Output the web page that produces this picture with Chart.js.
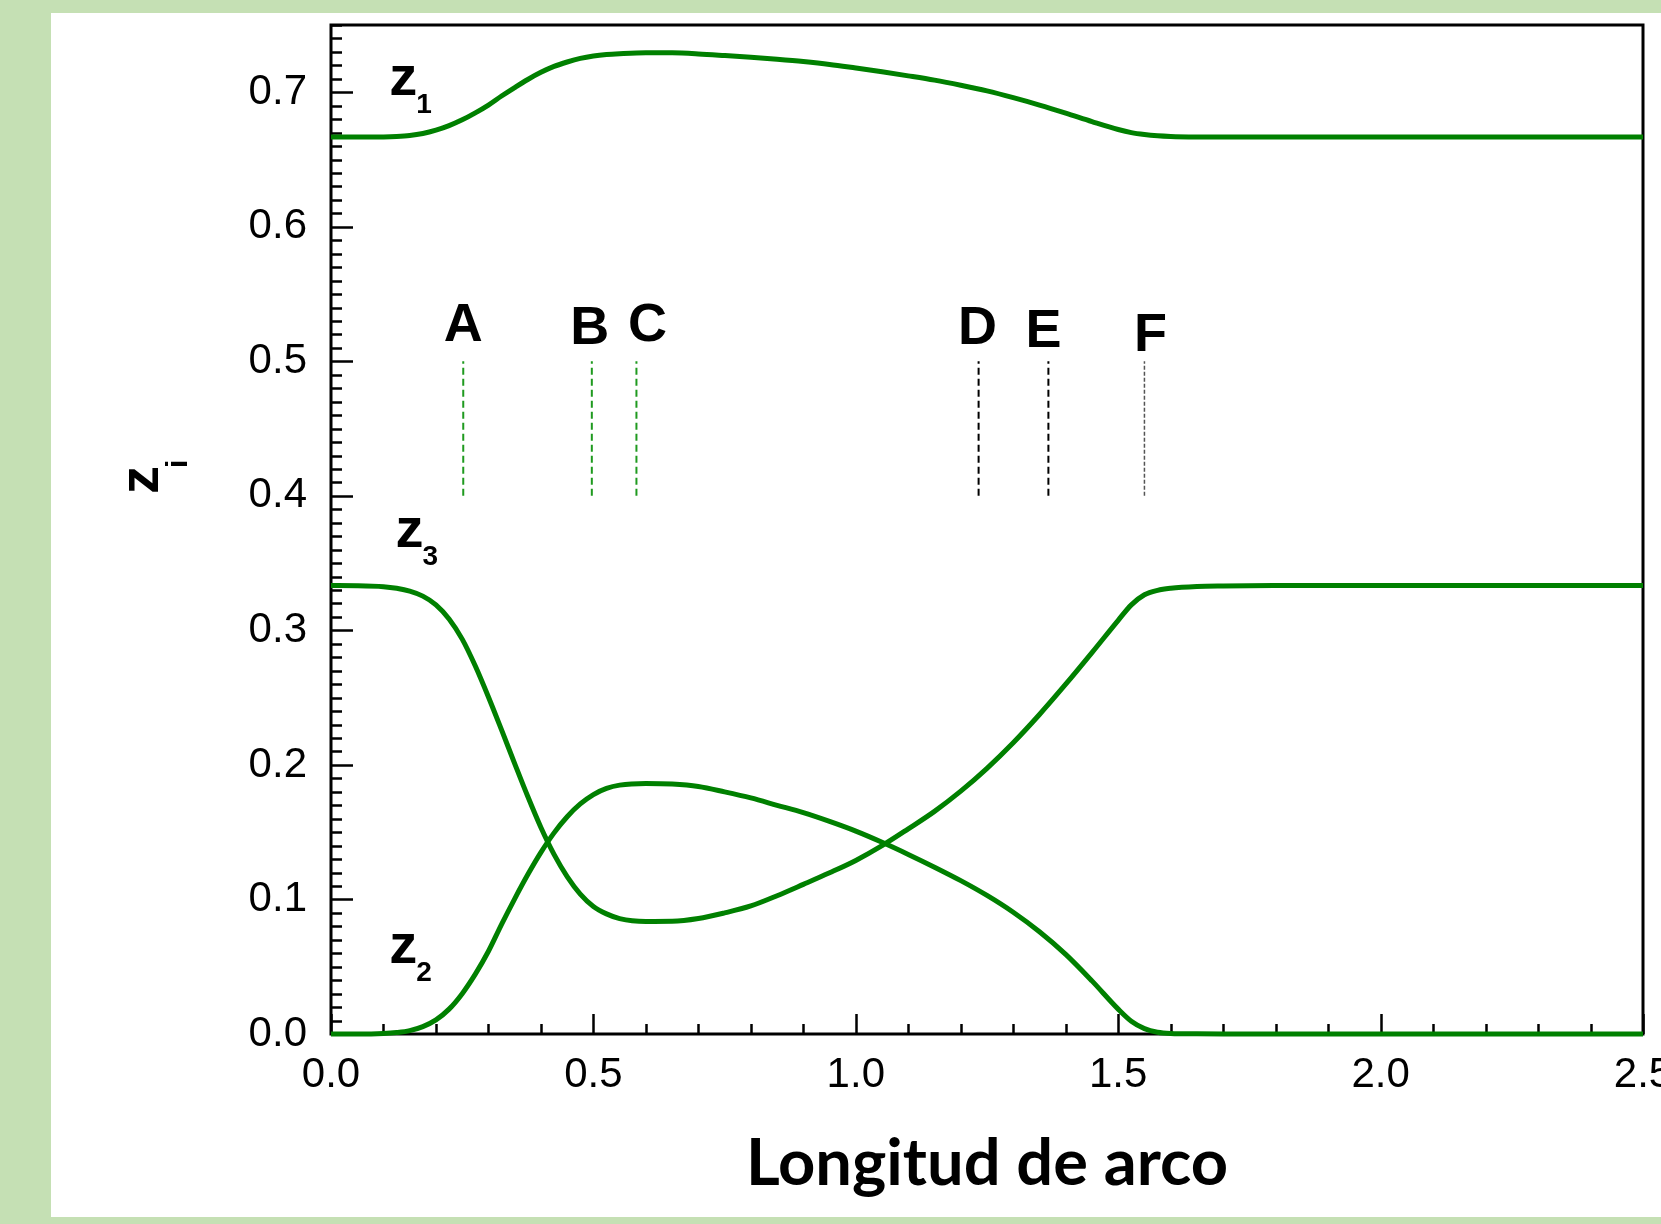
<!DOCTYPE html>
<html>
<head>
<meta charset="utf-8">
<script src="https://cdn.jsdelivr.net/npm/chart.js@4.4.1/dist/chart.umd.min.js"></script>
<style>
  html, body { margin: 0; padding: 0; background: #c5e0b4; width: 1661px; height: 1224px; overflow: hidden; }
  #wrap { position: absolute; left: 51px; top: 13px; width: 1610px; height: 1204px; background: #fff; }
</style>
</head>
<body>
<div id="wrap"><canvas id="myChart"></canvas></div>
<script>
// arc length (x) and mole fractions
const arcLength = [0, 0.05, 0.1, 0.125, 0.15, 0.175, 0.2, 0.225, 0.25, 0.275,
                   0.3, 0.325, 0.35, 0.375, 0.4, 0.425, 0.45, 0.475, 0.5, 0.525,
                   0.55, 0.6, 0.65, 0.7, 0.75, 0.8, 0.85, 0.9, 0.95, 1.0,
                   1.05, 1.1, 1.15, 1.2, 1.25, 1.3, 1.35, 1.4, 1.45, 1.5,
                   1.525, 1.55, 1.575, 1.6, 1.65, 1.7, 1.8, 2.0, 2.5];
const z1 = [0.6667, 0.6667, 0.6668, 0.6671, 0.6678, 0.6693, 0.6718, 0.6752, 0.6795, 0.6847,
            0.6905, 0.6972, 0.7035, 0.7095, 0.7148, 0.7192, 0.7225, 0.7252, 0.7270, 0.7281,
            0.7287, 0.7294, 0.7293, 0.7285, 0.7273, 0.7260, 0.7245, 0.7228, 0.7207, 0.7180,
            0.7152, 0.7122, 0.7090, 0.7052, 0.7010, 0.6960, 0.6905, 0.6845, 0.6782, 0.6723,
            0.6700, 0.6686, 0.6677, 0.6672, 0.6668, 0.6667, 0.6667, 0.6667, 0.6667];
const z2 = [0, 0, 0.0004, 0.0011, 0.0025, 0.0055, 0.0105, 0.0185, 0.0300, 0.0445,
            0.0615, 0.0815, 0.1005, 0.1185, 0.1350, 0.1495, 0.1615, 0.1710, 0.1780, 0.1826,
            0.1850, 0.1862, 0.1858, 0.1840, 0.1800, 0.1755, 0.1700, 0.1645, 0.1580, 0.1508,
            0.1425, 0.1335, 0.1240, 0.1140, 0.1030, 0.0905, 0.0760, 0.0592, 0.0395, 0.0185,
            0.0095, 0.0040, 0.0013, 0.0004, 0.0001, 0, 0, 0, 0];
const z3 = [0.3333, 0.3332, 0.3325, 0.3313, 0.3292, 0.3255, 0.3190, 0.3085, 0.2935, 0.2735,
            0.2505, 0.2260, 0.2010, 0.1765, 0.1535, 0.1335, 0.1170, 0.1040, 0.0948, 0.0893,
            0.0858, 0.0837, 0.0838, 0.0858, 0.0900, 0.0952, 0.1028, 0.1112, 0.1198, 0.1290,
            0.1400, 0.1525, 0.1655, 0.1805, 0.1975, 0.2165, 0.2375, 0.2600, 0.2835, 0.3075,
            0.3190, 0.3265, 0.3298, 0.3313, 0.3326, 0.3330, 0.3333, 0.3333, 0.3333];

// points A-F marked with short dashed lines between z = 0.4 and 0.5
const markerNames = ['A', 'B', 'C', 'D', 'E', 'F'];
const markerPos = [0.252, 0.497, 0.582, 1.234, 1.367, 1.550];
const markerSpan = [0.4, 0.5];

const xTicks = [0, 0.5, 1.0, 1.5, 2.0, 2.5];
const yTicks = [0, 0.1, 0.2, 0.3, 0.4, 0.5, 0.6, 0.7];

const GREEN = '#008000';
const FONT = "'Liberation Sans', Arial, sans-serif";

const markerStyle = [
  { color: '#1f9a1f', dash: [7, 4], width: 2 },
  { color: '#1f9a1f', dash: [7, 4], width: 2 },
  { color: '#1f9a1f', dash: [7, 4], width: 2 },
  { color: '#000', dash: [7, 4], width: 2 },
  { color: '#000', dash: [7, 4], width: 2 },
  { color: '#555', dash: [4, 2], width: 1.5 }
];
// letter placement: shift in px, baseline in data units
const letterShift = [0, -2, 11, -1, -5, 6];
const letterBase = [0.515, 0.513, 0.515, 0.513, 0.511, 0.508];

// curve name labels (anchor in data units)
const curveLabels = [
  { sub: '1', x: 0.111, y: 0.698 },
  { sub: '3', x: 0.123, y: 0.362 },
  { sub: '2', x: 0.111, y: 0.0528 }
];

function toPoints(ys) {
  return arcLength.map((v, i) => ({ x: v, y: ys[i] }));
}

const curve = (label, ys) => ({
  label: label,
  data: toPoints(ys),
  borderColor: GREEN,
  borderWidth: 5,
  pointRadius: 0,
  cubicInterpolationMode: 'monotone',
  clip: 6
});

const markerSets = markerNames.map((n, i) => ({
  label: n,
  data: markerSpan.map(v => ({ x: markerPos[i], y: v })),
  borderColor: markerStyle[i].color,
  borderWidth: markerStyle[i].width,
  borderDash: markerStyle[i].dash,
  pointRadius: 0,
  tension: 0
}));

function subLabel(ctx, base, sub, px, py, bigSize, smallSize, dx, dy) {
  ctx.font = 'bold ' + bigSize + 'px ' + FONT;
  ctx.fillText(base, px, py);
  const w = ctx.measureText(base).width;
  ctx.font = 'bold ' + smallSize + 'px ' + FONT;
  ctx.fillText(sub, px + w + dx, py + dy);
}

// drop the label padding Chart.js adds around the axes
function noPad(s) {
  s.paddingTop = 0; s.paddingBottom = 0; s.paddingLeft = 0; s.paddingRight = 0;
}

const decor = {
  id: 'decor',
  beforeDatasetsDraw(chart) {
    const { ctx, chartArea: a, scales: { x, y } } = chart;
    ctx.save();
    ctx.strokeStyle = '#000';
    ctx.lineWidth = 3;
    ctx.strokeRect(a.left, a.top, a.right - a.left, a.bottom - a.top);
    ctx.lineWidth = 2.5;
    ctx.beginPath();
    // inward ticks, minor every 0.01 on y and 0.1 on x
    for (let i = 0; i <= 75; i++) {
      const py = Math.round(y.getPixelForValue(i / 100)) + 0.5;
      const len = i % 10 === 0 ? 22 : 11;
      ctx.moveTo(a.left, py);
      ctx.lineTo(a.left + len, py);
    }
    for (let i = 0; i <= 25; i++) {
      const px = Math.round(x.getPixelForValue(i / 10)) + 0.5;
      const len = i % 5 === 0 ? 20 : 10;
      ctx.moveTo(px, a.bottom);
      ctx.lineTo(px, a.bottom - len);
    }
    ctx.stroke();
    ctx.restore();
  },
  afterDatasetsDraw(chart) {
    const { ctx, scales: { x, y } } = chart;
    ctx.save();
    ctx.fillStyle = '#000';
    ctx.textBaseline = 'alphabetic';

    ctx.font = 'bold 54px ' + FONT;
    ctx.textAlign = 'center';
    markerNames.forEach((n, i) => {
      ctx.fillText(n, x.getPixelForValue(markerPos[i]) + letterShift[i], y.getPixelForValue(letterBase[i]));
    });

    ctx.textAlign = 'left';
    curveLabels.forEach(l => {
      subLabel(ctx, 'z', l.sub, x.getPixelForValue(l.x), y.getPixelForValue(l.y), 56, 28, -1, 18);
    });

    // y axis title z_i, rotated
    ctx.translate(107, 481);
    ctx.rotate(-Math.PI / 2);
    subLabel(ctx, 'z', 'i', 0, 0, 56, 30, -2, 29);
    ctx.restore();
  }
};

const ctx = document.getElementById('myChart');
Chart.defaults.font.family = FONT;
Chart.defaults.color = '#000';

new Chart(ctx, {
  type: 'line',
  data: {
    datasets: [curve('z1', z1), curve('z2', z2), curve('z3', z3)].concat(markerSets)
  },
  options: {
    responsive: true,
    maintainAspectRatio: false,
    animation: false,
    layout: {
      autoPadding: false,
      padding: { left: 0, right: 18, top: 12, bottom: 0 }
    },
    plugins: {
      legend: { display: false },
      tooltip: { enabled: false }
    },
    scales: {
      x: {
        type: 'linear',
        min: 0,
        max: 2.5,
        afterBuildTicks: s => { s.ticks = xTicks.map(v => ({ value: v })); },
        afterFit: s => { s.height = 183; noPad(s); },
        grid: { display: false, drawTicks: false },
        border: { display: false },
        ticks: {
          padding: 16,
          font: { size: 42 },
          color: '#000',
          maxRotation: 0,
          callback: v => v.toFixed(1)
        },
        title: {
          display: true,
          text: 'Longitud de arco',
          color: '#000',
          font: { family: 'Lato', size: 65, weight: 'bold' },
          padding: { top: 0, bottom: 14 }
        }
      },
      y: {
        min: 0,
        max: 0.75,
        afterBuildTicks: s => { s.ticks = yTicks.map(v => ({ value: v })); },
        afterFit: s => { s.width = 280; noPad(s); },
        grid: { display: false, drawTicks: false },
        border: { display: false },
        ticks: {
          padding: 24,
          font: { size: 42 },
          color: '#000',
          callback: v => v.toFixed(1)
        }
      }
    }
  },
  plugins: [decor]
});
</script>
</body>
</html>
